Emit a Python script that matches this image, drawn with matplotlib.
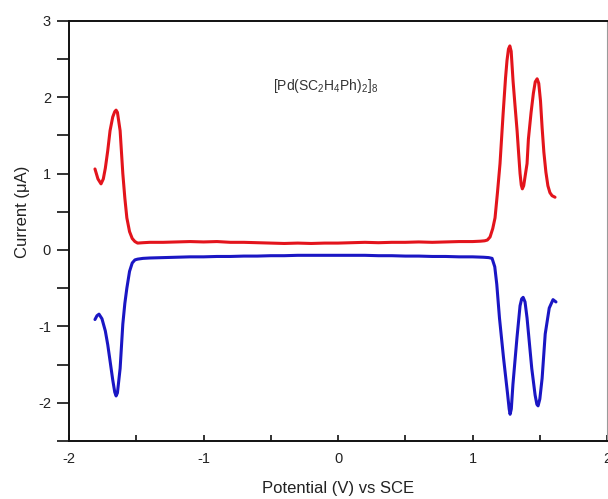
import matplotlib
matplotlib.use("Agg")
import matplotlib.pyplot as plt
from matplotlib.ticker import MultipleLocator

plt.rcParams["font.family"] = ["Liberation Sans", "DejaVu Sans"]
plt.rcParams["mathtext.fontset"] = "custom"
plt.rcParams["mathtext.rm"] = "Liberation Sans"
plt.rcParams["mathtext.it"] = "Liberation Sans:italic"

# Anodic (oxidation) sweep
ox_potential = [
    -1.807, -1.785, -1.762, -1.745, -1.73, -1.712, -1.695, -1.675, -1.66, -1.65,
    -1.64, -1.62, -1.60, -1.585, -1.57, -1.55, -1.53, -1.51, -1.49, -1.45,
    -1.40, -1.30, -1.20, -1.10, -1.00, -0.90, -0.80, -0.70, -0.60, -0.50,
    -0.40, -0.30, -0.20, -0.10, 0.00, 0.10, 0.20, 0.30, 0.40, 0.50,
    0.60, 0.70, 0.80, 0.90, 1.00, 1.06, 1.09, 1.11, 1.13, 1.15,
    1.167, 1.185, 1.204, 1.227, 1.245, 1.256, 1.267, 1.277, 1.287, 1.301,
    1.316, 1.331, 1.343, 1.353, 1.362, 1.370, 1.380, 1.392, 1.405, 1.415,
    1.435, 1.452, 1.466, 1.480, 1.492, 1.505, 1.517, 1.530, 1.545, 1.560,
    1.575, 1.591, 1.613,
]
ox_current = [
    1.06, 0.93, 0.865, 0.93, 1.07, 1.30, 1.56, 1.74, 1.81, 1.83,
    1.80, 1.56, 1.00, 0.68, 0.42, 0.24, 0.15, 0.11, 0.09, 0.095,
    0.10, 0.10, 0.105, 0.11, 0.105, 0.11, 0.10, 0.10, 0.095, 0.09,
    0.085, 0.09, 0.085, 0.09, 0.09, 0.095, 0.10, 0.095, 0.10, 0.10,
    0.105, 0.10, 0.105, 0.11, 0.11, 0.115, 0.12, 0.13, 0.17, 0.28,
    0.42, 0.75, 1.13, 1.78, 2.25, 2.48, 2.63, 2.67, 2.60, 2.21,
    1.88, 1.56, 1.25, 1.00, 0.85, 0.80, 0.84, 0.98, 1.13, 1.45,
    1.80, 2.05, 2.20, 2.24, 2.18, 1.95, 1.60, 1.28, 1.02, 0.84,
    0.75, 0.71, 0.69,
]

# Cathodic (reduction) sweep
red_potential = [
    -1.807, -1.792, -1.777, -1.755, -1.73, -1.712, -1.695, -1.675, -1.66, -1.65,
    -1.64, -1.62, -1.60, -1.585, -1.57, -1.55, -1.53, -1.51, -1.49, -1.45,
    -1.40, -1.30, -1.20, -1.10, -1.00, -0.90, -0.80, -0.70, -0.60, -0.50,
    -0.40, -0.30, -0.20, -0.10, 0.00, 0.10, 0.20, 0.30, 0.40, 0.50,
    0.60, 0.70, 0.80, 0.90, 1.00, 1.08, 1.12, 1.145, 1.165, 1.18,
    1.20, 1.23, 1.26, 1.272, 1.279, 1.288, 1.30, 1.33, 1.353, 1.365,
    1.376, 1.39, 1.405, 1.44, 1.465, 1.478, 1.487, 1.50, 1.517, 1.54,
    1.57, 1.598, 1.62,
]
red_current = [
    -0.91, -0.86, -0.84, -0.90, -1.06, -1.24, -1.45, -1.70, -1.86, -1.91,
    -1.87, -1.55, -0.97, -0.70, -0.50, -0.28, -0.17, -0.13, -0.12, -0.11,
    -0.105, -0.10, -0.095, -0.09, -0.09, -0.085, -0.085, -0.08, -0.08, -0.075,
    -0.075, -0.07, -0.07, -0.07, -0.07, -0.07, -0.07, -0.075, -0.075, -0.08,
    -0.08, -0.085, -0.085, -0.09, -0.09, -0.095, -0.10, -0.11, -0.22, -0.45,
    -0.89, -1.41, -1.88, -2.08, -2.15, -2.08, -1.76, -1.15, -0.73, -0.64,
    -0.62, -0.68, -0.89, -1.55, -1.90, -2.02, -2.04, -1.95, -1.68, -1.10,
    -0.76, -0.65, -0.68,
]

x_ticks = [-2, -1, 0, 1, 2]
y_ticks = [-2, -1, 0, 1, 2, 3]
compound_label = r"$\mathrm{[Pd(SC_2H_4Ph)_2]_8}$"

fig = plt.figure(figsize=(6.08, 4.99), dpi=100)
ax = fig.add_axes([0.1135, 0.1162, 0.885, 0.8423])

ax.plot(ox_potential, ox_current, color="#e3141c", lw=2.2,
        solid_capstyle="round", solid_joinstyle="round")
ax.plot(red_potential, red_current, color="#1a16c4", lw=2.2,
        solid_capstyle="round", solid_joinstyle="round")

ax.set_xlim(-2, 2)
ax.set_ylim(-2.5, 3)
ax.set_xticks(x_ticks)
ax.set_yticks(y_ticks)
ax.set_xticklabels([str(v) for v in x_ticks])
ax.set_yticklabels([str(v) for v in y_ticks])
ax.xaxis.set_minor_locator(MultipleLocator(0.5))
ax.yaxis.set_minor_locator(MultipleLocator(0.5))

ax.tick_params(axis="y", which="both", direction="out", length=9, width=1.2,
               labelsize=10.5, pad=4, colors="#111111", labelcolor="#222222")
ax.tick_params(axis="x", which="both", direction="in", length=4, width=1.2,
               labelsize=10.5, pad=8, colors="#111111", labelcolor="#222222")

for side in ("left", "bottom", "top"):
    ax.spines[side].set_linewidth(1.4)
    ax.spines[side].set_color("#111111")
ax.spines["right"].set_linewidth(0.8)
ax.spines["right"].set_color("#9a9a9a")

ax.set_xlabel("Potential (V) vs SCE", fontsize=12, color="#222222")
ax.set_ylabel("Current (\u03bcA)", fontsize=12, color="#222222")
ax.xaxis.set_label_coords(0.5, -0.112)
ax.yaxis.set_label_coords(-0.087, 0.545)
ax.xaxis.label.set_va("center")
ax.yaxis.label.set_va("center")

ax.text(-0.09, 2.15, compound_label, fontsize=10, ha="center", va="center",
        color="#333333")

fig.savefig("out.png", dpi=100)
